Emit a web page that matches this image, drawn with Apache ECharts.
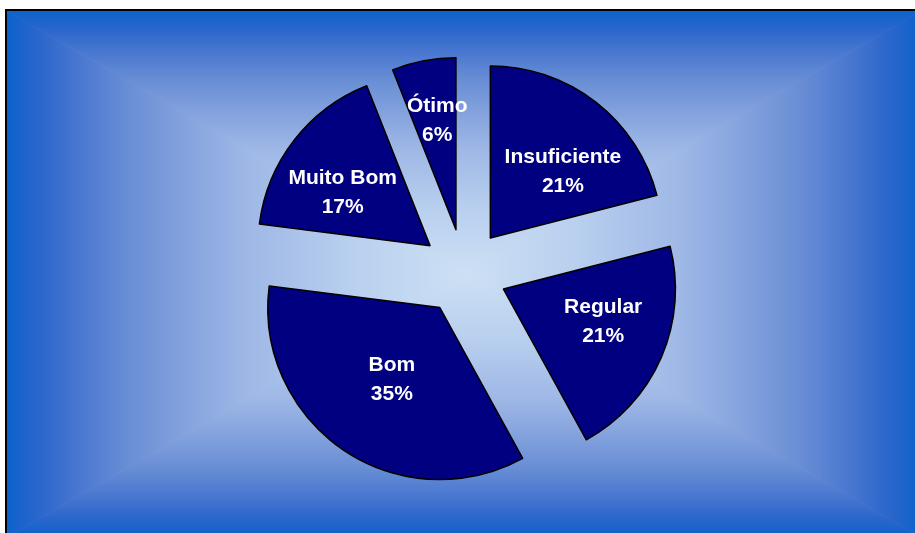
<!DOCTYPE html>
<html>
  <head>
    <meta charset='UTF-8'>
    <title>Avaliação</title>
    <script src="https://cdn.jsdelivr.net/npm/echarts@6/dist/echarts.min.js"></script>
    <style>
      html, body { margin: 0; padding: 0; background: #fff; }
      #chart { width: 915px; height: 533px; }
    </style>
  </head>
  <body>
    <div id="chart"></div>
    <script type="text/javascript">
      // dados do gráfico (percentuais)
      var categorias = ['Insuficiente', 'Regular', 'Bom', 'Muito Bom', 'Ótimo'];
      var percentuais = [21, 21, 35, 17, 6];

      // ajuste fino da posição dos rótulos (px), na ordem das categorias
      var ajusteRotulo = [[18, 4], [18, -3], [2, -1], [-17, 2], [-2, -22]];

      var myChart = echarts.init(document.getElementById('chart'), null, { renderer: 'canvas' });

      // fundo: gradiente retangular "do centro"
      var L = 7, T = 11, R = 921, B = 537;
      var cx = (L + R) / 2, cy = (T + B) / 2;
      var paradas = [
        { offset: 0, color: '#0c62cb' },
        { offset: 0.07, color: '#2a66cb' },
        { offset: 0.16, color: '#4a78d0' },
        { offset: 0.27, color: '#6a8fd5' },
        { offset: 0.4, color: '#86a4de' },
        { offset: 0.53, color: '#9fb8e6' },
        { offset: 0.75, color: '#b8cfee' },
        { offset: 1, color: '#cde0f4' }
      ];
      function grad(x1, y1, x2, y2) {
        return new echarts.graphic.LinearGradient(x1, y1, x2, y2, paradas);
      }
      function tri(pts, fill) {
        return { type: 'polygon', silent: true, z: -10, shape: { points: pts },
                 style: { fill: fill, stroke: fill, lineWidth: 0.6 } };
      }

      var option = {
        animation: false,
        graphic: [
          { type: 'rect', silent: true, z: -11, shape: { x: L, y: T, width: R - L, height: B - T }, style: { fill: '#9fb8e6' } },
          tri([[L, T], [R, T], [cx, cy]], grad(0, 0, 0, 1)),
          tri([[L, B], [R, B], [cx, cy]], grad(0, 1, 0, 0)),
          tri([[L, T], [L, B], [cx, cy]], grad(0, 0, 1, 0)),
          tri([[R, T], [R, B], [cx, cy]], grad(1, 0, 0, 0)),
          { type: 'rect', silent: true, z: -9, shape: { x: L - 1, y: T - 1, width: R - L + 2, height: B - T + 2 },
            style: { fill: null, stroke: '#000', lineWidth: 2 } }
        ],
        series: [
          {
            name: 'Avaliação',
            type: 'pie',
            center: [464, 272],
            radius: 172,
            startAngle: 90,
            clockwise: true,
            selectedMode: 'multiple',
            selectedOffset: 43,
            avoidLabelOverlap: false,
            emphasis: { disabled: true, scale: false },
            itemStyle: { color: '#000080', borderColor: '#000', borderWidth: 1.5 },
            select: { itemStyle: { color: '#000080', borderColor: '#000', borderWidth: 1.5 } },
            label: {
              show: true,
              position: 'inside',
              color: '#fff',
              fontFamily: 'Liberation Sans, Arial, sans-serif',
              fontWeight: 'bold',
              fontSize: 21,
              lineHeight: 29,
              formatter: function (p) { return p.name + '\n' + p.value + '%'; }
            },
            labelLine: { show: false },
            labelLayout: function (p) {
              var a = ajusteRotulo[p.dataIndex];
              return { dx: a[0], dy: a[1] };
            },
            data: categorias.map(function (c, i) {
              return { name: c, value: percentuais[i], selected: true };
            })
          }
        ]
      };
      myChart.setOption(option);
    </script>
  </body>
</html>
